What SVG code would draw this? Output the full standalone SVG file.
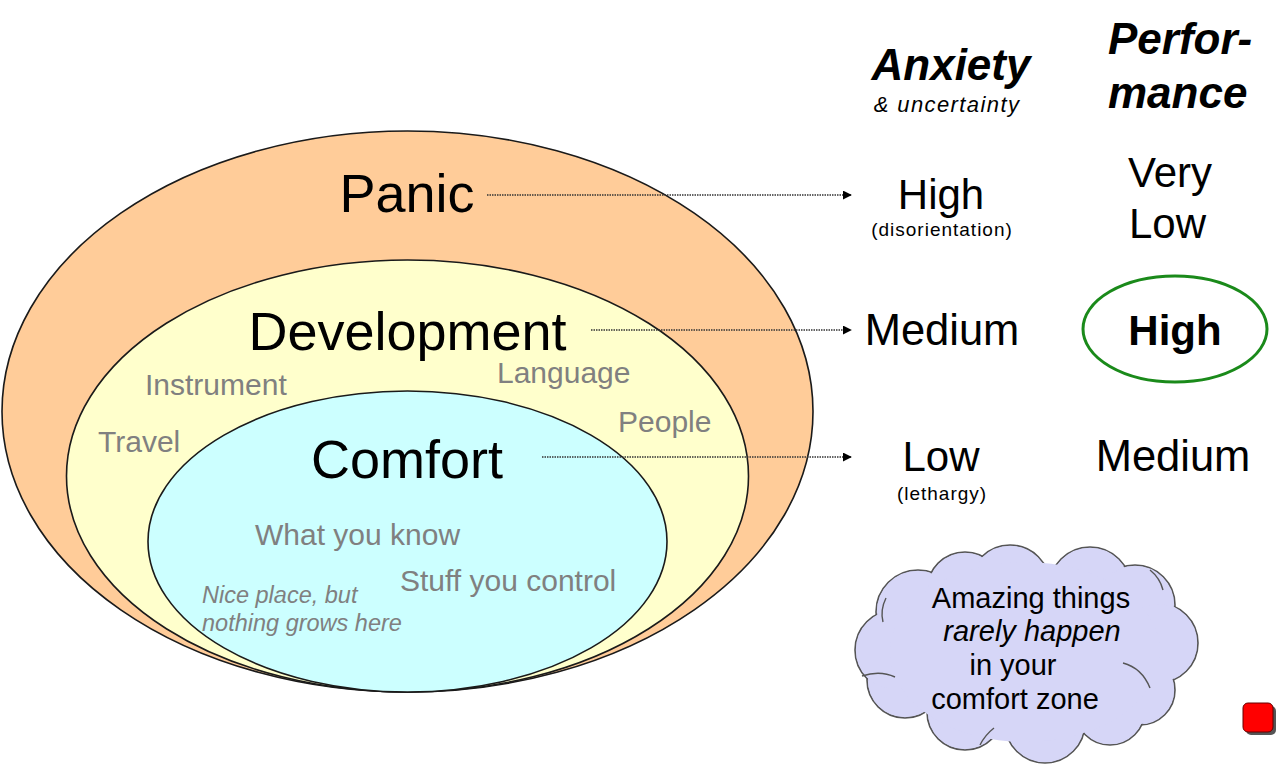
<svg xmlns="http://www.w3.org/2000/svg" width="1285" height="768" viewBox="0 0 1285 768">
<defs>
<style>
.zone{stroke:#1a1a1a;stroke-width:1.6}
.big{font-family:"Liberation Sans",Arial,sans-serif;font-size:54px;fill:#000;text-anchor:middle}
.grey{font-family:"Liberation Sans",Arial,sans-serif;font-size:30px;fill:#808080}
.note{font-family:"Liberation Sans",Arial,sans-serif;font-size:23.5px;fill:#808080;font-style:italic}
.head{font-family:"Liberation Sans",Arial,sans-serif;font-size:44px;font-weight:bold;font-style:italic;fill:#000}
.sub{font-family:"Liberation Sans",Arial,sans-serif;font-size:22px;font-style:italic;fill:#000;letter-spacing:1.4px}
.val{font-family:"Liberation Sans",Arial,sans-serif;font-size:42px;fill:#000}
.med{font-size:43.5px}
.small{font-family:"Liberation Sans",Arial,sans-serif;font-size:19px;fill:#000;letter-spacing:1px;text-anchor:middle}
.cloudtxt{font-family:"Liberation Sans",Arial,sans-serif;font-size:29px;fill:#000;text-anchor:middle}
.conn{stroke:#333;stroke-width:1.3;stroke-dasharray:1.5 1;fill:none}
.cs{fill:#d6d6f7;stroke:#555;stroke-width:1.6}
.cf{fill:#d6d6f7;stroke:none}
.ca{fill:none;stroke:#555;stroke-width:1.4}
</style>
<marker id="arr" viewBox="0 0 10 10" refX="9" refY="5" markerWidth="9" markerHeight="9" markerUnits="userSpaceOnUse" orient="auto">
<path d="M0,0 L10,5 L0,10 z" fill="#000"/>
</marker>
</defs>
<rect width="1285" height="768" fill="#fff"/>

<g id="panic">
<ellipse class="zone" cx="407.5" cy="411.5" rx="405.5" ry="280.5" fill="#ffcc99"/>
<text class="big" x="407" y="212">Panic</text>
</g>
<g id="development">
<ellipse class="zone" cx="407.5" cy="476" rx="341" ry="216" fill="#ffffcc"/>
<text class="big" x="407.5" y="350">Development</text>
<text class="grey" x="145" y="395">Instrument</text>
<text class="grey" x="497" y="383">Language</text>
<text class="grey" x="618" y="432">People</text>
<text class="grey" x="98" y="452">Travel</text>
</g>
<g id="comfort">
<ellipse class="zone" cx="407.5" cy="541.5" rx="259.5" ry="150.5" fill="#ccffff"/>
<text class="big" x="407" y="478">Comfort</text>
<text class="grey" x="255" y="545">What you know</text>
<text class="grey" x="400" y="591">Stuff you control</text>
<text class="note" x="202" y="603">Nice place, but</text>
<text class="note" x="202" y="631">nothing grows here</text>
</g>

<g id="connectors">
<line class="conn" x1="487" y1="195" x2="851" y2="195" marker-end="url(#arr)"/>
<line class="conn" x1="591" y1="330" x2="851" y2="330" marker-end="url(#arr)"/>
<line class="conn" x1="542" y1="457" x2="851" y2="457" marker-end="url(#arr)"/>
</g>

<g id="anxiety-header">
<text class="head" x="951" y="80" text-anchor="middle">Anxiety</text>
<text class="sub" x="947" y="112" text-anchor="middle">&amp; uncertainty</text>
</g>
<g id="performance-header">
<text class="head" x="1108" y="54">Perfor-</text>
<text class="head" x="1108" y="108">mance</text>
</g>
<g id="anxiety-high">
<text class="val" x="941" y="209" text-anchor="middle">High</text>
<text class="small" x="942" y="236">(disorientation)</text>
</g>
<g id="perf-verylow">
<text class="val" x="1128" y="187">Very</text>
<text class="val" x="1129" y="238">Low</text>
</g>
<g id="anxiety-medium">
<text class="val med" x="942" y="345" text-anchor="middle">Medium</text>
</g>
<g id="perf-high">
<ellipse cx="1175" cy="329" rx="92" ry="53" fill="none" stroke="#1a8a1a" stroke-width="3"/>
<text class="val" x="1175" y="345" text-anchor="middle" font-weight="bold">High</text>
</g>
<g id="anxiety-low">
<text class="val" x="941" y="471" text-anchor="middle">Low</text>
<text class="small" x="942" y="500">(lethargy)</text>
</g>
<g id="perf-medium">
<text class="val med" x="1173" y="471" text-anchor="middle">Medium</text>
</g>

<g id="cloud">
<g class="cs">
<circle cx="918" cy="612" r="42"/>
<circle cx="965" cy="590" r="38"/>
<circle cx="1010" cy="585" r="40"/>
<circle cx="1090" cy="588" r="41"/>
<circle cx="1135" cy="605" r="40"/>
<circle cx="1158" cy="643" r="40"/>
<circle cx="1140" cy="690" r="35"/>
<circle cx="1110" cy="710" r="35"/>
<circle cx="1045" cy="723" r="40"/>
<circle cx="965" cy="712" r="38"/>
<circle cx="905" cy="680" r="38"/>
<circle cx="895" cy="650" r="40"/>
</g>
<g class="cf">
<circle cx="918" cy="612" r="41"/>
<circle cx="965" cy="590" r="37"/>
<circle cx="1010" cy="585" r="39"/>
<circle cx="1090" cy="588" r="40"/>
<circle cx="1135" cy="605" r="39"/>
<circle cx="1158" cy="643" r="39"/>
<circle cx="1140" cy="690" r="34"/>
<circle cx="1110" cy="710" r="34"/>
<circle cx="1045" cy="723" r="39"/>
<circle cx="965" cy="712" r="37"/>
<circle cx="905" cy="680" r="37"/>
<circle cx="895" cy="650" r="39"/>
<ellipse cx="1025" cy="652" rx="135" ry="90"/>
</g>
<g class="ca">
<path d="M862,676 Q880,670 895,677"/>
<path d="M1123,663 Q1142,668 1150,688"/>
<path d="M883,622 Q880,610 886,598"/>
<path d="M1150,570 Q1160,578 1163,590"/>
<path d="M980,745 Q985,735 994,728"/>
</g>
<text class="cloudtxt" x="1031" y="608">Amazing things</text>
<text class="cloudtxt" x="1032" y="641" font-style="italic">rarely happen</text>
<text class="cloudtxt" x="1013" y="675">in your</text>
<text class="cloudtxt" x="1015" y="709">comfort zone</text>
</g>

<g id="button">
<rect x="1246" y="706" width="30" height="29" rx="5" fill="#555"/>
<rect x="1243" y="703" width="30" height="29" rx="5" fill="#ff0000" stroke="#600" stroke-width="1"/>
</g>
</svg>
